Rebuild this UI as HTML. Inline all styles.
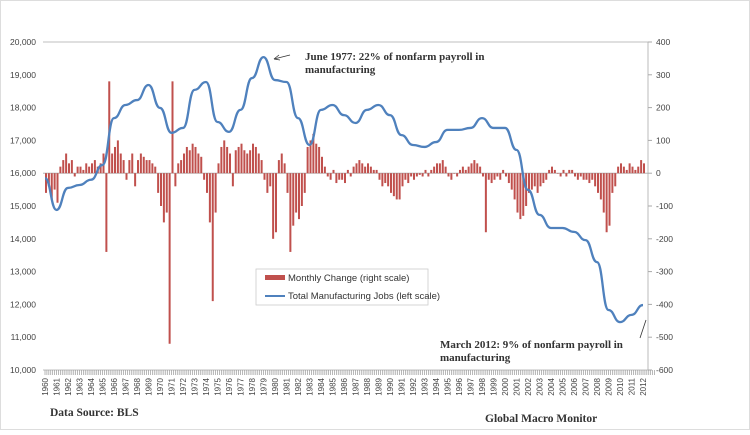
<!DOCTYPE html>
<html><head><meta charset="utf-8"><style>
body{margin:0;background:#fff;width:750px;height:430px;overflow:hidden}
svg text{font-family:"Liberation Sans",sans-serif}
.ser{font-family:"Liberation Serif",serif;font-weight:bold}
</style></head><body>
<svg id="c" width="750" height="430" xmlns="http://www.w3.org/2000/svg">
<rect x="0.5" y="0.5" width="749" height="429" fill="#fff" stroke="#ddd"/>
<g id="axes"></g>
<g id="bars"></g>
<g id="line"></g>
<g>
<rect x="256" y="269" width="172" height="36" fill="#fff" stroke="#ccc" stroke-width="0.8"/>
<rect x="265" y="275" width="20" height="5" fill="#c0504d"/>
<text x="288" y="281" font-size="9.5" fill="#333">Monthly Change (right scale)</text>
<line x1="265" y1="296" x2="285" y2="296" stroke="#4f81bd" stroke-width="2"/>
<text x="288" y="299" font-size="9.5" fill="#333">Total Manufacturing Jobs (left scale)</text>
</g>
<g>
<line x1="290" y1="55" x2="274" y2="59" stroke="#333" stroke-width="0.8"/>
<path d="M274 59 l5 -4 M274 59 l6 1" stroke="#333" stroke-width="0.8" fill="none"/>
<text class="ser" x="305" y="60" font-size="11" fill="#333">June 1977:  22% of nonfarm payroll in</text>
<text class="ser" x="305" y="73" font-size="11" fill="#333">manufacturing</text>
</g>
<g>
<line x1="640" y1="338" x2="646" y2="320" stroke="#333" stroke-width="0.8"/>
<text class="ser" x="440" y="348" font-size="11" fill="#333">March 2012:  9% of nonfarm payroll in</text>
<text class="ser" x="440" y="361" font-size="11" fill="#333">manufacturing</text>
</g>
<text class="ser" x="50" y="416" font-size="11.5" fill="#333">Data Source:   BLS</text>
<text class="ser" x="485" y="422" font-size="11.5" fill="#333">Global Macro Monitor</text>
</svg>
<script>
const years=[];for(let y=1960;y<=2012;y++)years.push(y);
const leftTicks=[10000,11000,12000,13000,14000,15000,16000,17000,18000,19000,20000];
const rightTicks=[-600,-500,-400,-300,-200,-100,0,100,200,300,400];
const jobs=[15850,14880,15550,15640,15800,16250,17680,18080,18230,18690,17990,17230,17380,18540,18780,17560,17260,17930,18900,19540,18840,18780,17680,16860,17930,18080,17770,17530,17930,18080,17770,17160,16860,16800,16950,17320,17320,17380,17680,17380,17380,16710,15490,14730,14330,14330,14210,13960,13290,11830,11460,11680,11980];
const changes=[-60,-40,-80,-50,-90,20,40,60,30,40,-10,20,20,10,30,20,30,40,20,30,60,-240,280,60,80,100,60,40,-20,40,60,-40,40,60,50,40,40,30,20,-60,-100,-150,-120,-520,280,-40,30,40,60,80,70,90,80,60,50,-20,-60,-150,-390,-120,30,80,100,80,60,-40,70,80,90,70,60,70,90,80,60,40,-20,-60,-40,-200,-180,40,60,30,-60,-240,-160,-120,-140,-100,-60,80,100,120,90,80,50,20,-10,-20,10,-30,-20,-20,-30,10,-10,20,30,40,30,20,30,20,10,10,-20,-40,-30,-40,-60,-70,-80,-80,-40,-20,-30,-10,-20,-10,-5,-10,10,-10,10,20,30,30,40,20,-10,-20,0,-10,10,20,10,20,30,40,30,20,-10,-180,-20,-30,-20,-10,-20,10,-10,-30,-50,-80,-120,-140,-130,-100,-60,-50,-40,-60,-40,-30,-20,10,20,10,0,-10,10,-10,10,10,-10,-20,-10,-20,-20,-30,-20,-40,-60,-80,-120,-180,-160,-60,-40,20,30,20,10,30,20,10,20,40,30];
const X0=45,PX=11.5,TOP=42,BOT=370,R=648;
const xT=t=>X0+(t-1960)*PX;
const yL=v=>TOP+(20000-v)/10000*(BOT-TOP);
const yR=v=>TOP+(400-v)/1000*(BOT-TOP);
const NS='http://www.w3.org/2000/svg';
function mk(tag,attrs,parent,txt){const e=document.createElementNS(NS,tag);for(const k in attrs)e.setAttribute(k,attrs[k]);if(txt!==undefined)e.textContent=txt;parent.appendChild(e);return e;}
const ax=document.getElementById('axes');
let e=mk('line',{x1:X0-2,y1:TOP,x2:R,y2:TOP,stroke:'#aaa','stroke-width':0.8},ax);


e=mk('line',{x1:R,y1:TOP,x2:R,y2:BOT,stroke:'#aaa','stroke-width':0.8},ax);


e=mk('line',{x1:X0-2,y1:yR(0),x2:R,y2:yR(0),stroke:'#aaa','stroke-width':0.8},ax);


e=mk('line',{x1:X0-2,y1:BOT,x2:R,y2:BOT,stroke:'#aaa','stroke-width':0.8},ax);


leftTicks.forEach(v=>{const t=mk('text',{x:36,y:yL(v)+3,'font-size':8.5,fill:'#444','text-anchor':'end'},ax,v.toLocaleString('en-US'));

});
rightTicks.forEach(v=>{mk('line',{x1:R,y1:yR(v),x2:R+4,y2:yR(v),stroke:'#aaa'},ax);const t=mk('text',{x:656,y:yR(v)+3,'font-size':8.5,fill:'#444'},ax,String(v));

});
for(let i=0;i<=53*12;i+=2){const xx=X0+i*PX/12;mk('line',{x1:xx,y1:BOT,x2:xx,y2:BOT+5,stroke:'#999','stroke-width':0.7},ax);}
years.forEach(y=>{const xx=xT(y)+3;const t=mk('text',{x:0,y:0,'font-size':8,fill:'#444','text-anchor':'end',transform:`translate(${xx},${BOT+8}) rotate(-90)`},ax,String(y));

});
const bg=document.getElementById('bars');
changes.forEach((v,i)=>{const xx=X0+i*PX/4;const y0=yR(0),y1=yR(v);const b=mk('rect',{x:xx,y:Math.min(y0,y1),width:2,height:Math.max(0.5,Math.abs(y1-y0)),fill:'#c0504d'},bg);

});
const lg=document.getElementById('line');
const pts=jobs.map((v,i)=>[xT(years[i]),yL(v)]);
let d='M'+pts[0][0]+' '+pts[0][1];
for(let i=1;i<pts.length;i++){const p0=pts[i-1],p1=pts[i];const cx=(p0[0]+p1[0])/2;d+=` C${cx} ${p0[1]} ${cx} ${p1[1]} ${p1[0]} ${p1[1]}`;}
const pl=mk('path',{d:d,fill:'none',stroke:'#4f81bd','stroke-width':2.3},lg);


</script>
</body></html>
